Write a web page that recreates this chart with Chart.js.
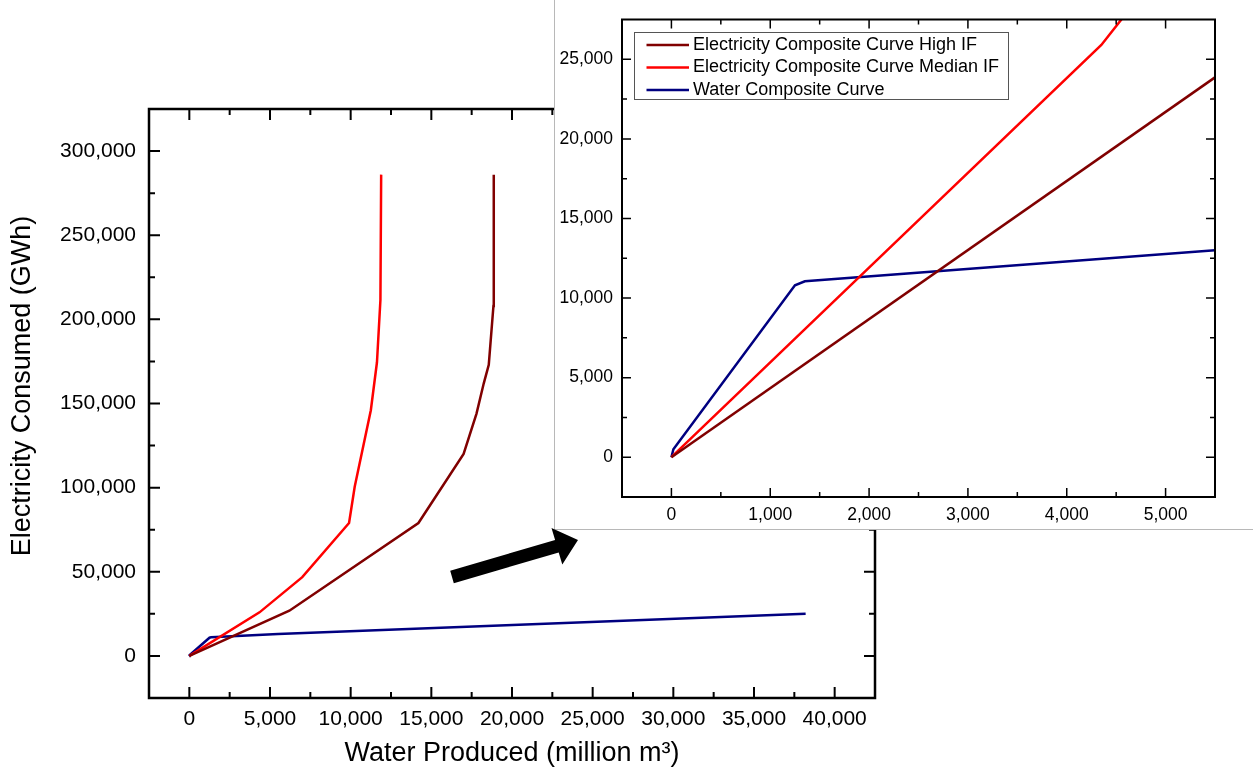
<!DOCTYPE html>
<html><head><meta charset="utf-8">
<script src="https://cdn.jsdelivr.net/npm/chart.js@4.4.1/dist/chart.umd.min.js"></script>
<style>
html,body{margin:0;padding:0;background:#fff;overflow:hidden}
#wrap{position:relative;width:1253px;height:772px;background:#fff}
#main{position:absolute;left:0;top:0}
#insetBox{position:absolute;left:554px;top:0;width:699px;height:530px;background:#fff;border-left:1px solid #b8b8b8;border-bottom:1px solid #b8b8b8;box-sizing:border-box}
#inset{position:absolute;left:0;top:0}
#arrow{position:absolute;left:0;top:0;pointer-events:none}
</style></head>
<body><div id="wrap">
<canvas id="main" width="1253" height="772"></canvas>
<div id="insetBox"><canvas id="inset" width="698" height="529"></canvas></div>
<svg id="arrow" width="1253" height="772"><polygon points="450.2,570.8 555.1,540 551.5,528 578,540 562.3,564.4 558.7,552.4 453.8,583.2" fill="#000"/></svg>
</div>
<script>
// ---- data ----
const seriesLabels = ['Electricity Composite Curve High IF','Electricity Composite Curve Median IF','Water Composite Curve'];
const seriesColors = ['#800000','#ff0000','#000080'];
const highX = [0, 6200, 14200, 17000, 17800, 18250, 18560, 18850, 18870];
const highY = [0, 26900, 79000, 120000, 144000, 162000, 173000, 208000, 286000];
const medX  = [0, 4350, 7000, 9900, 10250, 11250, 11630, 11845, 11890];
const medY  = [0, 25900, 46800, 79000, 100500, 146000, 174500, 211600, 286000];
const waterX = [0, 20, 1250, 1350, 5500, 38200];
const waterY = [0, 500, 10800, 11050, 13000, 25000];
const mainXTicks = [0,5000,10000,15000,20000,25000,30000,35000,40000];
const mainYTicks = [0,50000,100000,150000,200000,250000,300000];
const insetXTicks = [0,1000,2000,3000,4000,5000];
const insetYTicks = [0,5000,10000,15000,20000,25000];
const mainXTitle = 'Water Produced (million m\u00b3)';
const mainYTitle = 'Electricity Consumed (GWh)';

const FONT = "'Liberation Sans', Arial, sans-serif";
Chart.defaults.font.family = FONT;
Chart.defaults.color = '#000';
const fmt = v => Number(v).toLocaleString('en-US');
const pts = (xs, ys) => xs.map((x, i) => ({x: x, y: ys[i]}));

function makeDatasets(bw){
  const xs=[highX,medX,waterX], ys=[highY,medY,waterY];
  return seriesLabels.map((l,i)=>({label:l, data:pts(xs[i],ys[i]), borderColor:seriesColors[i], backgroundColor:seriesColors[i], borderWidth:bw, pointRadius:0, tension:0, fill:false}));
}
function minors(min, max, step){
  const h = step/2, out=[];
  for(let v=Math.ceil(min/h)*h; v<max; v+=h){ if(v>min && Math.abs(v%step)>1e-9) out.push(v); }
  return out;
}
function framePlugin(o){
  return {id:'frame', afterDatasetsDraw(chart){
    const {ctx, chartArea:a, scales:{x,y}} = chart;
    ctx.save();
    ctx.strokeStyle='#000';
    ctx.lineWidth=o.tw;
    const xs=[[o.xt,o.maj],[minors(x.min,x.max,o.xt[1]-o.xt[0]),o.min]];
    xs.forEach(([vals,len])=>vals.forEach(v=>{const p=x.getPixelForValue(v);ctx.beginPath();ctx.moveTo(p,a.bottom);ctx.lineTo(p,a.bottom-len);ctx.moveTo(p,a.top);ctx.lineTo(p,a.top+len);ctx.stroke();}));
    const ys=[[o.yt,o.maj],[minors(y.min,y.max,o.yt[1]-o.yt[0]),o.min]];
    ys.forEach(([vals,len])=>vals.forEach(v=>{const p=y.getPixelForValue(v);ctx.beginPath();ctx.moveTo(a.left,p);ctx.lineTo(a.left+len,p);ctx.moveTo(a.right,p);ctx.lineTo(a.right-len,p);ctx.stroke();}));
    ctx.lineWidth=o.lw;
    ctx.strokeRect(a.left,a.top,a.right-a.left,a.bottom-a.top);
    if(o.ytitle){
      ctx.fillStyle='#000'; ctx.font='27px '+FONT; ctx.textAlign='center'; ctx.textBaseline='middle';
      ctx.translate(o.ytitle.x,o.ytitle.y); ctx.rotate(-Math.PI/2); ctx.fillText(o.ytitle.text,0,0);
    }
    ctx.restore();
  }};
}
const legendPlugin = {id:'insetLegend', afterDraw(chart){
  const ctx=chart.ctx; const L={x:79,y:32,w:374,h:67,l1:91.5,l2:134,tx:138,rows:[45,67.5,90]};
  ctx.save();
  ctx.fillStyle='#fff'; ctx.fillRect(L.x,L.y,L.w,L.h);
  ctx.strokeStyle='#555'; ctx.lineWidth=1; ctx.strokeRect(L.x+0.5,L.y+0.5,L.w,L.h);
  chart.data.datasets.forEach((ds,i)=>{
    ctx.strokeStyle=ds.borderColor; ctx.lineWidth=2.5;
    ctx.beginPath(); ctx.moveTo(L.l1,L.rows[i]); ctx.lineTo(L.l2,L.rows[i]); ctx.stroke();
    ctx.fillStyle='#000'; ctx.font='18px '+FONT; ctx.textAlign='left'; ctx.textBaseline='middle';
    ctx.fillText(ds.label,L.tx,L.rows[i]);
  });
  ctx.restore();
}};

new Chart(document.getElementById('main'), {
  type:'line',
  data:{datasets:makeDatasets(2.5)},
  options:{
    responsive:false, animation:false, events:[],
    layout:{padding:{left:0,top:109,right:378,bottom:0}},
    plugins:{legend:{display:false}, tooltip:{enabled:false}},
    scales:{
      x:{type:'linear', position:'bottom', min:-2500, max:42500,
        grid:{display:false,drawTicks:false}, border:{display:false},
        ticks:{font:{size:21}, color:'#000', padding:9, maxRotation:0, callback:v=>fmt(v)},
        afterBuildTicks:s=>{s.ticks=mainXTicks.map(v=>({value:v}));},
        afterFit:s=>{s.height=74;},
        title:{display:true, text:mainXTitle, font:{size:27}, color:'#000', padding:{top:0,bottom:2}}},
      y:{type:'linear', position:'left', min:-25000, max:325000,
        grid:{display:false,drawTicks:false}, border:{display:false},
        ticks:{font:{size:21}, color:'#000', padding:13, callback:v=>fmt(v)},
        afterBuildTicks:s=>{s.ticks=mainYTicks.map(v=>({value:v}));},
        afterFit:s=>{s.width=149;}}
    }
  },
  plugins:[framePlugin({xt:mainXTicks,yt:mainYTicks,maj:11,min:6,lw:2.5,tw:2,ytitle:{x:22.5,y:386,text:mainYTitle}})]
});

new Chart(document.getElementById('inset'), {
  type:'line',
  data:{datasets:makeDatasets(2.5)},
  options:{
    responsive:false, animation:false, events:[],
    layout:{padding:{left:0,top:16,right:38,bottom:0}},
    plugins:{legend:{display:false}, tooltip:{enabled:false}},
    scales:{
      x:{type:'linear', position:'bottom', min:-500, max:5500,
        grid:{display:false,drawTicks:false}, border:{display:false},
        ticks:{font:{size:17.5}, color:'#000', padding:7.5, maxRotation:0, callback:v=>fmt(v)},
        afterBuildTicks:s=>{s.ticks=insetXTicks.map(v=>({value:v}));},
        afterFit:s=>{s.height=32;}},
      y:{type:'linear', position:'left', min:-2500, max:27500,
        grid:{display:false,drawTicks:false}, border:{display:false},
        ticks:{font:{size:17.5}, color:'#000', padding:9, callback:v=>fmt(v)},
        afterBuildTicks:s=>{s.ticks=insetYTicks.map(v=>({value:v}));},
        afterFit:s=>{s.width=67;}}
    }
  },
  plugins:[framePlugin({xt:insetXTicks,yt:insetYTicks,maj:9,min:5,lw:2,tw:1.5}), legendPlugin]
});
</script>
</body></html>
